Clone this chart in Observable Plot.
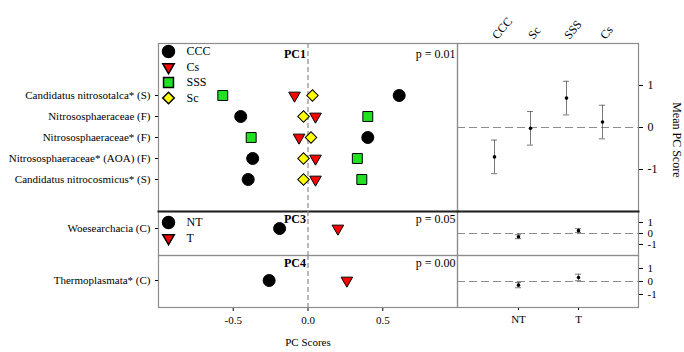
<!DOCTYPE html>
<html><head><meta charset="utf-8">
<script src="https://cdn.jsdelivr.net/npm/d3@7"></script>
<script src="https://cdn.jsdelivr.net/npm/@observablehq/plot@0.6"></script>
<style>
body{margin:0;background:#fff;}
#chart{position:relative;width:684px;height:352px;}
#chart svg{position:absolute;left:0;top:0;}
</style></head><body><div id="chart"></div>
<script>
// ---------- data ----------
const pc1Taxa = ["Candidatus nitrosotalca* (S)","Nitrososphaeraceae (F)","Nitrososphaeraceae* (F)","Nitrososphaeraceae* (AOA) (F)","Candidatus nitrocosmicus* (S)"];
const pc1Groups = ["CCC","Cs","SSS","Sc"];
const pc1CCC = [0.61,-0.45,0.40,-0.37,-0.40];
const pc1Cs  = [-0.09,0.05,-0.06,0.05,0.05];
const pc1SSS = [-0.57,0.40,-0.38,0.33,0.36];
const pc1Sc  = [0.03,-0.03,0.02,-0.03,-0.03];
const pc1MeanOrder = ["CCC","Sc","SSS","Cs"];
const pc1Mean = [-0.70,-0.02,0.70,0.13];
const pc1Err  = [0.40,0.40,0.40,0.40];

const pc3Taxa = ["Woesearchacia (C)"];
const pc4Taxa = ["Thermoplasmata* (C)"];
const ntGroups = ["NT","T"];
const pc3NT = [-0.19], pc3T = [0.20];
const pc4NT = [-0.26], pc4T = [0.26];
const pc3Mean = [-0.29,0.26], pc3Err = [0.18,0.18];
const pc4Mean = [-0.28,0.31], pc4Err = [0.20,0.25];
const pLabels = ["p = 0.01","p = 0.05","p = 0.00"];
const pcNames = ["PC1","PC3","PC4"];
const xTicks = [-0.5,0,0.5];
const yTicks = [-1,0,1];

// ---------- styles ----------
const FONT = "'Liberation Serif', 'Times New Roman', serif";
const FS = 11;
const sym = {
  CCC:{symbol:"circle",fill:"#000",r:6,rotate:0},
  Cs:{symbol:"triangle",fill:"#ff0000",r:4.3,rotate:180},
  SSS:{symbol:"square",fill:"#22e022",r:5.6,rotate:0},
  Sc:{symbol:"square",fill:"#ffff00",r:4.6,rotate:45},
  NT:{symbol:"circle",fill:"#000",r:6,rotate:0},
  T:{symbol:"triangle",fill:"#ff0000",r:4.3,rotate:180}
};
const W = 684, H = 352;
const frameColor = "#8c8c8c";
const chart = document.getElementById("chart");
function add(p){ chart.appendChild(p); }
const baseStyle = {fontFamily:FONT, fontSize:FS+"px", background:"transparent", overflow:"visible"};

function seriesDots(rows, groupVals){
  const marks = [];
  for (const [g, vals] of groupVals){
    const s = sym[g];
    marks.push(Plot.dot(rows.map((t,i)=>({taxon:t, v:vals[i]})), {
      x:"v", y:"taxon", symbol:()=>s.symbol, r:s.r, rotate:s.rotate,
      fill:s.fill, stroke:"#000", strokeWidth:1
    }));
  }
  return marks;
}
function legendMarks(groups, dy0){
  const m = [];
  groups.forEach((g,i)=>{
    const s = sym[g];
    m.push(Plot.dot([0],{frameAnchor:"top-left", dx:10, dy:dy0+15.5*i, symbol:s.symbol, r:s.r, rotate:s.rotate, fill:s.fill, stroke:"#000"}));
    m.push(Plot.text([g],{frameAnchor:"top-left", dx:28, dy:dy0+15.5*i, text:d=>d, textAnchor:"start", lineAnchor:"middle", fontSize:FS+1}));
  });
  return m;
}

// ---------- left panels ----------
function leftPanel({top, bottom, taxa, groupVals, yRange, pcName, pLabel, legendGroups, legendDy, labelDy, xAxis, thickTop}){
  return Plot.plot({
    width:W, height:H, marginLeft:158, marginRight:W-457, marginTop:top, marginBottom:H-bottom,
    style:baseStyle,
    x:{domain:[-1,1], ticks:xTicks, tickFormat:d=>d.toFixed(1), tickSize:4, tickPadding:5, label:xAxis?"PC Scores":null, labelAnchor:"center", labelOffset:38, labelArrow:"none", axis:xAxis?"bottom":null},
    y:{type:"point", domain:taxa, range:yRange, tickSize:3, tickPadding:5, label:null},
    marks:[
      Plot.frame({stroke:frameColor, strokeWidth:1.2}),
      thickTop ? Plot.frame({anchor:"top", stroke:"#222", strokeWidth:2}) : null,
      Plot.ruleX([0],{stroke:"#8c8c8c", strokeDasharray:"5,3", strokeWidth:1.2}),
      ...seriesDots(taxa, groupVals),
      ...legendMarks(legendGroups, legendDy),
      Plot.text([pcName],{x:0, frameAnchor:"top", dy:labelDy, dx:-2, textAnchor:"end", lineAnchor:"middle", fontWeight:"bold", fontSize:FS+1, text:d=>d}),
      Plot.text([pLabel],{frameAnchor:"top-right", dx:-2, dy:labelDy, textAnchor:"end", lineAnchor:"middle", fontSize:FS+1, text:d=>d})
    ]
  });
}

add(leftPanel({top:43, bottom:211, taxa:pc1Taxa,
  groupVals:[["CCC",pc1CCC],["Cs",pc1Cs],["SSS",pc1SSS],["Sc",pc1Sc]],
  yRange:[83,190], pcName:pcNames[0], pLabel:pLabels[0], legendGroups:pc1Groups, legendDy:8, labelDy:11, xAxis:false, thickTop:false}));
add(leftPanel({top:211, bottom:255, taxa:pc3Taxa,
  groupVals:[["NT",pc3NT],["T",pc3T]],
  yRange:[228,228], pcName:pcNames[1], pLabel:pLabels[1], legendGroups:ntGroups, legendDy:11, labelDy:8, xAxis:false, thickTop:true}));
add(leftPanel({top:255, bottom:307, taxa:pc4Taxa,
  groupVals:[["NT",pc4NT],["T",pc4T]],
  yRange:[280,280], pcName:pcNames[2], pLabel:pLabels[2], legendGroups:[], legendDy:0, labelDy:8, xAxis:true, thickTop:false}));

// ---------- right panels ----------
function rightPanel({top, bottom, cats, mean, err, padIn, padOut, topAxis, bottomAxis, thickTop, fs}){
  const data = cats.map((c,i)=>({c, m:mean[i], lo:mean[i]-err[i], hi:mean[i]+err[i]}));
  return Plot.plot({
    width:W, height:H, marginLeft:457, marginRight:W-638, marginTop:top, marginBottom:H-bottom,
    style:{...baseStyle, fontSize:fs+"px"},
    x:{type:"band", domain:cats, paddingInner:padIn, paddingOuter:padOut, label:null,
       axis: topAxis ? "top" : (bottomAxis ? "bottom" : null),
       tickRotate: topAxis ? -50 : 0, tickSize: topAxis ? 0 : 3, tickPadding: topAxis ? 6 : 5},
    y:{domain:[-2,2], ticks:yTicks, tickFormat:d=>String(d), axis:"right", tickSize:4, tickPadding:5, label:null},
    marks:[
      Plot.frame({stroke:frameColor, strokeWidth:1.2}),
      thickTop ? Plot.frame({anchor:"top", stroke:"#222", strokeWidth:2}) : null,
      Plot.ruleY([0],{stroke:"#8c8c8c", strokeDasharray:"8,4", strokeWidth:1.2}),
      Plot.ruleX(data,{x:"c", y1:"lo", y2:"hi", stroke:"#555", strokeWidth:0.8}),
      Plot.tickY(data,{x:"c", y:"lo", stroke:"#555", strokeWidth:0.8}),
      Plot.tickY(data,{x:"c", y:"hi", stroke:"#555", strokeWidth:0.8}),
      Plot.dot(data,{x:"c", y:"m", r:1.8, fill:"#000"})
    ]
  });
}
add(rightPanel({top:43, bottom:211, cats:pc1MeanOrder, mean:pc1Mean, err:pc1Err, padIn:0.834, padOut:0.917, topAxis:true, bottomAxis:false, thickTop:false, fs:FS+1}));
add(rightPanel({top:211, bottom:255, cats:ntGroups, mean:pc3Mean, err:pc3Err, padIn:0.9, padOut:0.958, topAxis:false, bottomAxis:false, thickTop:true, fs:FS}));
add(rightPanel({top:255, bottom:307, cats:ntGroups, mean:pc4Mean, err:pc4Err, padIn:0.9, padOut:0.958, topAxis:false, bottomAxis:true, thickTop:false, fs:FS}));

// ---------- right-side axis title ----------
add(Plot.plot({
  width:W, height:H, marginLeft:640, marginRight:W-676, marginTop:43, marginBottom:H-311,
  style:baseStyle,
  x:{domain:[0,1], axis:null}, y:{domain:[0,1], axis:null},
  marks:[
    Plot.text(["Mean PC Score"],{frameAnchor:"right", rotate:90, fontSize:FS+1, text:d=>d})
  ]
}));
</script></body></html>
